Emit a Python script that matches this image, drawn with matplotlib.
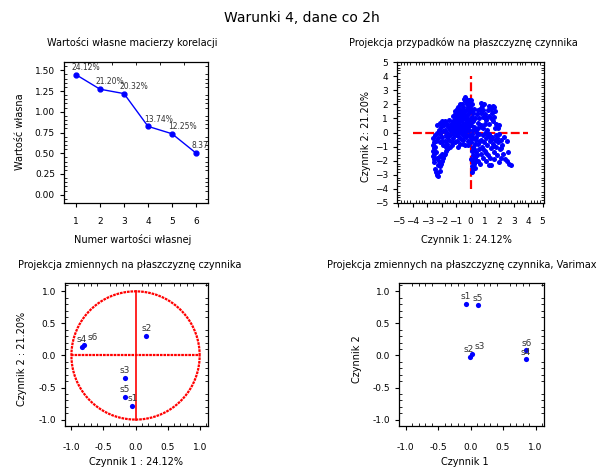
import matplotlib
matplotlib.use('Agg')
import matplotlib.pyplot as plt
import numpy as np
from matplotlib.ticker import AutoMinorLocator, MultipleLocator

plt.rcParams['font.family'] = ['DejaVu Sans']

# eigenvalues
eig_nr = [1, 2, 3, 4, 5, 6]
eig_val = [1.447, 1.272, 1.219, 0.824, 0.735, 0.502]
eig_pct = ['24.12%', '21.20%', '20.32%', '13.74%', '12.25%', '8.37%']

# case scores (factor 1, factor 2)
case_x = [-2.6, -2.55, -2.6, -2.5, -2.6, -2.55, -2.6, -2.5, -2.45, -2.4, -2.45, -2.4, -2.35, -2.5,
          -2.45, -2.4, -2.35, -2.25, -2.3, -2.15, -2.1, -2.05, -2.0, -1.9, -1.85, -1.75, -1.7, -1.6,
          -1.95, -2.1, -2.2, -2.25,
          -2.3, -2.2, -2.15, -2.1, -2.05, -2.0, -1.95, -1.9, -1.85, -1.8, -1.8, -1.75, -1.7, -1.65,
          -1.6, -1.6, -1.55, -1.5, -1.5, -1.45, -1.4, -1.4, -1.35, -1.3, -1.3, -2.25, -2.0, -1.9,
          -1.7, -1.55, -2.3, -2.15,
          -1.25, -1.2, -1.1, -1.0, -0.95, -0.9, -0.8, -0.7, -0.6, -0.5, -0.4, -0.3, -0.2, -0.1,
          -1.15, -0.85, -0.55, -0.35, -0.15,
          -1.25, -1.2, -1.15, -1.1, -1.05, -1.0, -0.95, -0.9, -0.85, -0.8, -0.75, -0.7, -0.65, -0.6,
          -0.55, -0.5, -0.45, -0.4, -0.35, -0.3, -0.25, -0.2, -0.15, -0.1, -0.05, -1.0, -0.6, -0.3,
          -0.8, -1.1, -0.5, -0.2,
          -1.2, -1.1, -1.0, -0.9, -0.85, -0.8, -0.7, -0.65, -0.6, -0.55, -0.5, -0.45, -0.4, -0.35,
          -0.3, -0.25, -0.2, -0.15, -0.1, -0.05, -0.4, -0.3, -0.75, -0.95, -0.5, -0.2, -0.6, -1.05,
          0.05, 0.1, 0.05, 0.15, 0.1, 0.2, 0.05, 0.15, 0.1, 0.2, 0.05, 0.15, 0.1, 0.2, 0.05, 0.15,
          0.1, 0.2, 0.1, 0.25, 0.3, 0.25, 0.3, 0.25, 0.3, 0.25, 0.0, 0.0, 0.3, 0.35,
          0.7, 0.8, 0.9, 0.75, 0.85, 0.6, 1.0, 1.1, 1.2, 1.3, 1.4, 1.5, 1.6, 1.7, 1.65, 1.55, 1.45,
          1.3, 1.8, 1.9, 2.0, 1.7, 0.5, 0.45, 0.55, 0.7, 0.9, 1.0, 1.15, 1.25, 1.55, 0.95, 0.65,
          0.4, 0.5, 0.6, 0.45, 0.55, 0.7, 0.75, 0.8, 0.85, 0.9, 0.95, 1.0, 1.05, 1.1, 1.15, 1.2,
          1.3, 1.35, 1.4, 1.45, 1.5, 1.55, 1.6, 1.65, 1.7, 1.75, 1.8, 1.85, 1.9, 2.0, 2.05, 2.1,
          2.2, 2.25, 2.3, 2.4, 2.5, 2.55, 2.6, 2.7, 2.8, 1.25, 0.65, 0.35, 0.6, 1.0, 2.15, 1.95, 1.35,
          -0.9, -0.7, -0.45, -0.25, -1.05, -0.75, -0.35, -0.15, -0.65, -0.45, 0.4, 0.55, 0.8, 1.05,
          1.2, 1.4, 0.65, 0.9, 1.1, 1.35, 1.6, 1.85, 2.1, 0.45, 0.35, -0.05, -1.45, -1.65, -1.95]
case_y = [-0.4, -0.7, -0.9, -1.1, -1.3, -1.5, -1.7, -1.9, -0.2, -0.6, -1.0, -1.4, -1.8, -2.1,
          -2.6, -2.8, -3.0, -3.05, -2.9, -2.7, -2.4, -2.2, -2.0, -1.8, -1.6, -1.5, -1.3, -1.2,
          -1.5, -1.7, -2.0, -2.3,
          0.5, 0.2, 0.7, -0.1, 0.4, 0.8, -0.3, 0.1, 0.5, -0.6, 0.8, 0.2, -0.2, 0.6,
          -0.8, 0.0, 0.4, -0.5, 0.9, 0.2, -1.0, -0.2, 0.6, -0.7, 0.1, -0.4, -0.6, -0.9,
          -1.0, -1.1, 0.0, -0.7,
          -0.9, -0.4, -0.7, -0.2, -0.6, -1.0, -0.3, -0.8, -0.1, -0.5, -0.9, -0.3, -0.6, -0.2,
          -0.1, -0.05, -0.8, -0.1, -0.9,
          0.3, 0.8, 0.5, 0.1, 0.9, 0.4, 0.7, 0.2, 1.0, 0.5, 0.1, 0.8, 0.4, 0.9,
          0.2, 0.6, 1.0, 0.3, 0.7, 0.1, 0.9, 0.4, 0.8, 0.2, 0.6, 0.0, 0.05, 0.5,
          0.75, 0.65, 0.35, 0.15,
          1.2, 1.5, 1.1, 1.4, 1.8, 1.2, 1.6, 1.1, 2.0, 1.4, 1.8, 2.4, 1.2, 2.2,
          1.6, 2.0, 1.3, 1.8, 2.3, 1.5, 2.5, 2.4, 2.0, 1.7, 1.1, 2.1, 1.6, 1.3,
          2.3, 2.0, 1.7, 1.4, 1.1, 0.8, 0.5, 0.2, -0.1, -0.4, -0.7, -1.0, -1.3, -1.6, -1.9, -2.1,
          -2.4, -2.6, -2.8, -2.2, -1.8, -1.2, -0.8, 0.4, 1.0, 1.7, -0.4, 1.0, -2.5, -2.0,
          2.1, 1.9, 1.6, 1.4, 1.1, 1.0, 1.3, 0.9, 1.6, 1.2, 1.7, 1.4, 1.8, 1.5, 1.1, 0.8, 1.0,
          0.6, 0.6, 0.3, 0.5, 0.3, 0.7, 1.3, 0.3, 0.5, 0.3, 0.6, 0.2, 1.9, 1.9, 2.0, 1.7,
          -0.3, -0.8, -1.2, -1.6, -2.0, -0.5, -1.5, -1.0, -1.8, -0.2, -0.7, -1.3, -2.0, -0.4, -0.9, -1.6,
          -0.1, -0.6, -1.1, -2.3, -0.3, -0.8, -1.4, -1.9, -0.5, -1.0, -0.2, -1.6, -0.7, -0.1, -1.2, -0.5,
          -0.9, -1.5, -0.3, -1.9, -0.6, -2.0, -1.4, -2.2, -2.3, -2.3, -2.2, -1.4, -0.1, -0.05, -1.8, -2.1, -1.8,
          0.45, 1.3, 0.6, 1.25, 0.25, 0.35, 1.5, 0.95, -0.45, -0.25, 0.2, 1.6, 0.4, 1.0,
          -0.2, -0.45, -0.6, -1.15, -1.45, -0.3, -0.95, -0.4, -1.1, 0.0, -0.5, 1.9, 0.3, -0.35, 0.7]

# factor loadings
var_names = ['s1', 's2', 's3', 's4', 's5', 's6']
load_f1 = [-0.05, 0.17, -0.17, -0.84, -0.17, -0.80]
load_f2 = [-0.79, 0.31, -0.35, 0.13, -0.65, 0.17]
vmx_f1 = [-0.07, -0.01, 0.03, 0.85, 0.11, 0.86]
vmx_f2 = [0.80, -0.02, 0.02, -0.06, 0.78, 0.08]

W, H = 604, 468
fig = plt.figure(figsize=(W / 100, H / 100), dpi=100)


def px_axes(l, t, r, b):
    return fig.add_axes([l / W, 1 - b / H, (r - l) / W, (b - t) / H])


def style(ax, xpad=7):
    ax.xaxis.set_minor_locator(AutoMinorLocator(5))
    ax.yaxis.set_minor_locator(AutoMinorLocator(5))
    ax.tick_params(which='major', direction='out', length=3, width=0.8, labelsize=6.5, top=False, right=False)
    ax.tick_params(axis='x', which='major', pad=xpad)
    ax.tick_params(which='minor', direction='in', length=2, width=0.6, top=True, right=True,
                   bottom=True, left=True)
    for s in ax.spines.values():
        s.set_linewidth(0.9)


def unit_axes(ax):
    ax.set_xlim(-1.1, 1.13)
    ax.set_ylim(-1.1, 1.13)
    ax.set_xticks([-1, -0.5, 0, 0.5, 1])
    ax.set_yticks([-1, -0.5, 0, 0.5, 1])
    ax.xaxis.set_major_formatter(plt.FormatStrFormatter('%.1f'))
    ax.yaxis.set_major_formatter(plt.FormatStrFormatter('%.1f'))
    style(ax, xpad=9)


def label_points(ax, xs, ys, shift):
    for n, a, b in zip(var_names, xs, ys):
        ax.annotate(n, (a, b), xytext=(shift.get(n, 0), 2), textcoords='offset points',
                    fontsize=6.5, color='#333333', ha='center', va='bottom')


def ftext(x, y, s, size=7, **kw):
    fig.text(x / W, 1 - y / H, s, fontsize=size, ha='center', va='center', **kw)


ftext(302, 18, 'Warunki 4, dane co 2h', size=10)

# panel 1: eigenvalues
ax1 = px_axes(64, 62, 208, 203)
ax1.plot(eig_nr, eig_val, color='blue', marker='o', markersize=3.5, linewidth=1)
for n, v, p in zip(eig_nr, eig_val, eig_pct):
    ax1.annotate(p, (n, v), xytext=(-3, 2), textcoords='offset points', fontsize=5.5,
                 color='#333333', ha='left', va='bottom', annotation_clip=False, clip_on=True)
ax1.set_xlim(0.5, 6.5)
ax1.set_ylim(-0.1, 1.6)
ax1.set_xticks(eig_nr)
ax1.yaxis.set_major_locator(MultipleLocator(0.25))
ax1.yaxis.set_major_formatter(plt.FormatStrFormatter('%.2f'))
style(ax1)
ax1.xaxis.set_minor_locator(MultipleLocator(0.5))
ax1.tick_params(axis='x', which='minor', bottom=False)
ftext(132, 43, 'Wartości własne macierzy korelacji')
ftext(133, 240, 'Numer wartości własnej')
ftext(20, 132, 'Wartość własna', rotation=90)

# panel 2: case projection
ax2 = px_axes(397, 62, 544, 203)
ax2.plot([-4, 4], [0, 0], color='red', linewidth=1.6, dashes=(4, 1.5))
ax2.plot([0, 0], [-4, 4], color='red', linewidth=1.6, dashes=(4, 1.5))
ax2.scatter(case_x, case_y, s=13, color='blue', linewidths=0, zorder=3)
ax2.set_xlim(-5.1, 5.1)
ax2.set_ylim(-5, 5)
ax2.set_xticks(range(-5, 6))
ax2.set_yticks(range(-5, 6))
style(ax2)
ftext(463, 43, 'Projekcja przypadków na płaszczyznę czynnika')
ftext(466, 240, 'Czynnik 1: 24.12%')
ftext(366, 136, 'Czynnik 2: 21.20%', rotation=90)

# panel 3: variables on factor plane
ax3 = px_axes(65, 283, 208, 426)
t = np.linspace(0, 2 * np.pi, 400)
ax3.plot(np.cos(t), np.sin(t), color='red', linewidth=1.6, linestyle=(0, (1.2, 0.4)))
ax3.plot([-1, 1], [0, 0], color='red', linewidth=1.6, linestyle=(0, (1.2, 0.4)))
ax3.plot([0, 0], [-1, 1], color='red', linewidth=1.2)
ax3.scatter(load_f1, load_f2, s=14, color='blue', linewidths=0, zorder=3)
label_points(ax3, load_f1, load_f2, {'s6': 6})
unit_axes(ax3)
ftext(130, 265, 'Projekcja zmiennych na płaszczyznę czynnika')
ftext(136, 462, 'Czynnik 1 : 24.12%')
ftext(22, 359, 'Czynnik 2 : 21.20%', rotation=90)

# panel 4: varimax
ax4 = px_axes(399, 283, 544, 426)
ax4.scatter(vmx_f1, vmx_f2, s=14, color='blue', linewidths=0, zorder=3)
label_points(ax4, vmx_f1, vmx_f2, {'s3': 5, 's2': -1})
unit_axes(ax4)
ftext(462, 265, 'Projekcja zmiennych na płaszczyznę czynnika, Varimax')
ftext(465, 462, 'Czynnik 1')
ftext(357, 359, 'Czynnik 2', rotation=90)

fig.savefig('out.png', dpi=100)
